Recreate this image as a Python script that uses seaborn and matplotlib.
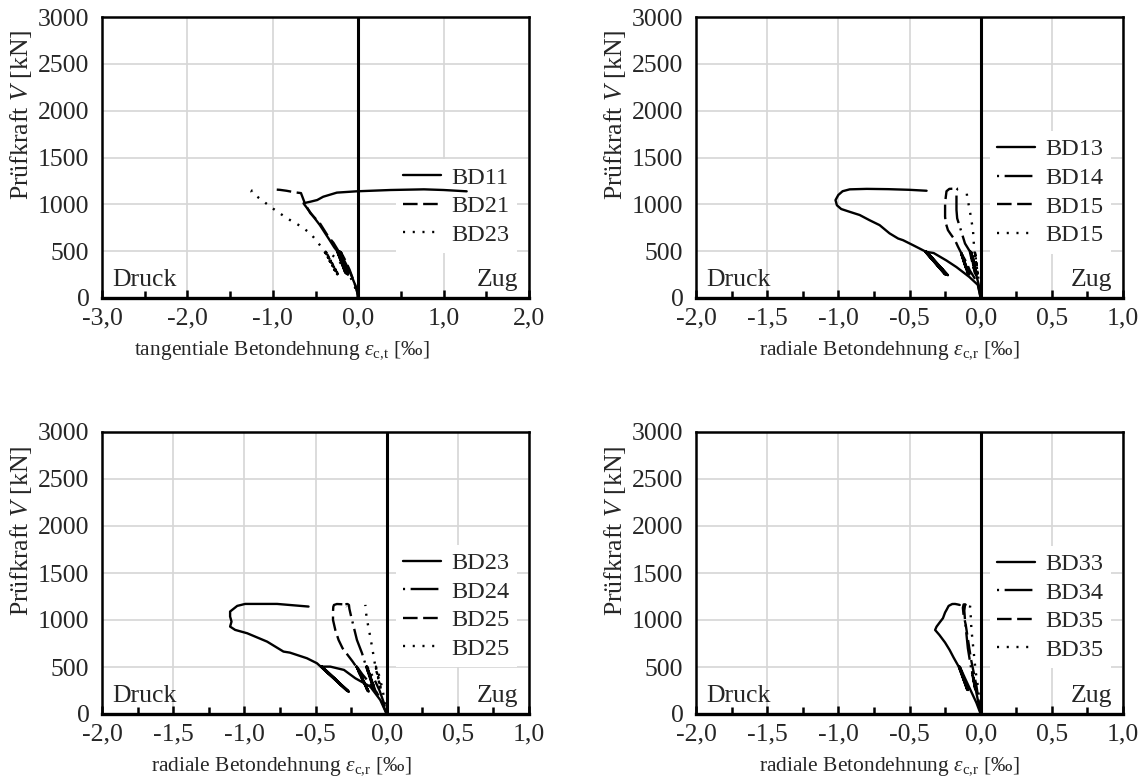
import matplotlib
matplotlib.use("Agg")
import matplotlib.pyplot as plt
import seaborn as sns
from matplotlib.ticker import FixedLocator, MultipleLocator

# ---------------- data (strain in permille, load in kN) ----------------
# Panel 1: tangential concrete strain
bd11_t_x = [0.0, -0.01, -0.04, -0.08, -0.13, -0.18, -0.22, -0.12, -0.23, -0.13, -0.235, -0.135, -0.24,
            -0.14, -0.245, -0.15, -0.25, -0.28, -0.35, -0.45, -0.55, -0.64, -0.60, -0.56, -0.48, -0.41,
            -0.25, -0.02, 0.38, 0.77, 1.00, 1.27]
bd11_t_y = [0, 60, 150, 240, 340, 430, 490, 255, 495, 258, 497, 262, 500,
            265, 502, 268, 505, 540, 640, 780, 900, 1010, 1020, 1028, 1046, 1081,
            1125, 1139, 1153, 1160, 1153, 1139]

bd21_t_x = [0.0, -0.02, -0.06, -0.10, -0.15, -0.20, -0.12, -0.205, -0.125, -0.21, -0.13, -0.215,
            -0.135, -0.22, -0.14, -0.23, -0.29, -0.35, -0.45, -0.56, -0.62, -0.67, -0.74, -0.84,
            -0.92, -1.01]
bd21_t_y = [0, 100, 200, 300, 400, 485, 250, 488, 252, 492, 255, 495,
            258, 498, 260, 500, 590, 655, 800, 905, 1000, 1120, 1128, 1145,
            1155, 1160]

bd23_t_x = [0.0, -0.04, -0.09, -0.16, -0.24, -0.32, -0.38, -0.23, -0.38, -0.235, -0.385, -0.24,
            -0.39, -0.245, -0.395, -0.25, -0.40, -0.47, -0.56, -0.68, -0.80, -0.92, -1.03, -1.12,
            -1.21, -1.25, -1.24, -1.21]
bd23_t_y = [0, 120, 220, 320, 410, 470, 495, 245, 496, 248, 498, 250,
            500, 252, 502, 255, 505, 590, 690, 770, 833, 905, 975, 1040,
            1100, 1135, 1150, 1155]

# Panel 2: radial concrete strain, BD13-BD15
bd13_r_x = [0.0, -0.02, -0.08, -0.17, -0.24, -0.33, -0.38, -0.23, -0.38, -0.235, -0.385, -0.24,
            -0.39, -0.245, -0.39, -0.25, -0.39, -0.47, -0.545, -0.58, -0.64, -0.71, -0.78, -0.85,
            -0.92, -0.98, -1.01, -1.02, -1.00, -0.97, -0.92, -0.80, -0.65, -0.50, -0.38]
bd13_r_y = [0, 140, 225, 330, 400, 480, 492, 243, 494, 246, 495, 248,
            496, 250, 497, 252, 498, 560, 617, 635, 690, 778, 830, 886,
            920, 950, 990, 1045, 1100, 1140, 1160, 1165, 1162, 1155, 1145]

bd14_r_x = [0.0, -0.015, -0.04, -0.06, -0.03, -0.065, -0.035, -0.07, -0.04, -0.077, -0.11, -0.147,
            -0.165, -0.17, -0.17, -0.17, -0.16, -0.14]
bd14_r_y = [0, 150, 300, 480, 250, 490, 255, 495, 258, 500, 582, 763,
            850, 940, 1050, 1150, 1168, 1168]

bd15a_r_x = [0.0, -0.02, -0.05, -0.077, -0.10, -0.135, -0.08, -0.135, -0.085, -0.14, -0.09, -0.14,
             -0.16, -0.18, -0.21, -0.23, -0.245, -0.25, -0.25, -0.25, -0.245, -0.24, -0.22, -0.18, -0.16]
bd15a_r_y = [0, 153, 230, 296, 380, 474, 250, 480, 255, 485, 258, 490,
             550, 617, 680, 725, 800, 867, 940, 1010, 1080, 1140, 1165, 1168, 1165]

bd15b_r_x = [0.0, -0.01, -0.025, -0.04, -0.02, -0.042, -0.022, -0.045, -0.054, -0.077, -0.095, -0.10, -0.10]
bd15b_r_y = [0, 150, 300, 500, 260, 505, 262, 510, 725, 940, 1080, 1150, 1170]

# Panel 3: radial concrete strain, BD23-BD25
bd23_r_x = [0.0, -0.045, -0.115, -0.22, -0.30, -0.396, -0.455, -0.267, -0.455, -0.27, -0.46, -0.275,
            -0.46, -0.28, -0.465, -0.49, -0.56, -0.68, -0.725, -0.84, -0.98, -1.065, -1.10, -1.09,
            -1.10, -1.10, -1.05, -0.994, -0.77, -0.549]
bd23_r_y = [0, 149, 291, 380, 469, 504, 504, 238, 504, 242, 504, 246,
            505, 250, 506, 540, 593, 653, 664, 770, 859, 895, 930, 983,
            1037, 1090, 1150, 1171, 1171, 1143]

bd24_r_x = [0.0, -0.02, -0.05, -0.09, -0.138, -0.08, -0.14, -0.085, -0.142, -0.09, -0.145, -0.173,
            -0.209, -0.232, -0.25, -0.262, -0.265, -0.275, -0.29]
bd24_r_y = [0, 120, 250, 380, 504, 250, 504, 255, 506, 258, 508, 646,
            788, 930, 1040, 1120, 1160, 1170, 1168]

bd25a_r_x = [0.0, -0.03, -0.07, -0.12, -0.17, -0.21, -0.127, -0.21, -0.13, -0.212, -0.133, -0.215,
             -0.24, -0.28, -0.31, -0.338, -0.361, -0.377, -0.377, -0.375, -0.37, -0.35, -0.32, -0.29, -0.28]
bd25a_r_y = [0, 120, 230, 330, 420, 504, 238, 504, 242, 505, 245, 506,
             560, 640, 700, 788, 895, 1001, 1090, 1140, 1160, 1170, 1168, 1165, 1140]

bd25b_r_x = [0.0, -0.015, -0.035, -0.06, -0.075, -0.04, -0.078, -0.042, -0.08, -0.09, -0.103, -0.12,
             -0.138, -0.147, -0.15]
bd25b_r_y = [0, 150, 300, 450, 504, 260, 506, 262, 508, 600, 717, 860,
             1001, 1100, 1161]

# Panel 4: radial concrete strain, BD33-BD35
bd33_r_x = [0.0, -0.03, -0.07, -0.11, -0.147, -0.089, -0.15, -0.092, -0.152, -0.095, -0.155, -0.19,
            -0.218, -0.25, -0.29, -0.32, -0.31, -0.285, -0.265, -0.25, -0.24, -0.225, -0.20, -0.18,
            -0.16, -0.147]
bd33_r_y = [0, 120, 250, 380, 504, 255, 504, 258, 505, 260, 506, 600,
            681, 760, 841, 894, 929, 980, 1019, 1080, 1107, 1150, 1170, 1171,
            1165, 1160]

bd34_r_x = [0.0, -0.02, -0.04, -0.06, -0.035, -0.062, -0.038, -0.065, -0.075, -0.09, -0.10, -0.11,
            -0.115, -0.11, -0.10]
bd34_r_y = [0, 150, 300, 450, 260, 465, 262, 470, 560, 700, 850, 1000,
            1100, 1160, 1170]

bd35a_r_x = [0.0, -0.015, -0.03, -0.05, -0.065, -0.08, -0.095, -0.105, -0.12, -0.125, -0.12, -0.11]
bd35a_r_y = [0, 150, 300, 450, 560, 700, 850, 950, 1050, 1130, 1165, 1168]

bd35b_r_x = [0.0, -0.01, -0.02, -0.035, -0.045, -0.055, -0.065, -0.07, -0.075, -0.07]
bd35b_r_y = [0, 150, 300, 450, 600, 750, 900, 1050, 1140, 1170]

# ---------------- axis texts ----------------
xticks_wide = [-3.0, -2.0, -1.0, 0.0, 1.0, 2.0]
xticklabels_wide = ["-3,0", "-2,0", "-1,0", "0,0", "1,0", "2,0"]
xticks_narrow = [-2.0, -1.5, -1.0, -0.5, 0.0, 0.5, 1.0]
xticklabels_narrow = ["-2,0", "-1,5", "-1,0", "-0,5", "0,0", "0,5", "1,0"]
yticks = [0, 500, 1000, 1500, 2000, 2500, 3000]
ylabel = r"Prüfkraft $V$ [kN]"
xlabel_t = r"tangentiale Betondehnung $\varepsilon_{\mathrm{c{,}t}}$ [‰]"
xlabel_r = r"radiale Betondehnung $\varepsilon_{\mathrm{c{,}r}}$ [‰]"

# ---------------- style ----------------
sns.set_theme(style="white")
plt.rcParams["font.family"] = ["Liberation Serif", "DejaVu Serif"]
plt.rcParams["mathtext.fontset"] = "custom"
plt.rcParams["mathtext.rm"] = "Liberation Serif"
plt.rcParams["mathtext.it"] = "Liberation Serif:italic"
plt.rcParams["lines.scale_dashes"] = False

FS_TICK = 18.5
FS_LEG = 17.5
FS_LAB = 18.5
FS_XLAB = 15.5
SOLID = "-"
DASHDOT = (0, (1.5, 4, 20, 4))
DASHED = (0, (10.5, 4))
DOTTED = (0, (1.5, 5.5))
LW = 1.7

fig = plt.figure(figsize=(11.42, 7.82), dpi=100)
W = 427 / 1142
boxes = [
    (102 / 1142, 1 - 298 / 782, W, 281 / 782),
    (696 / 1142, 1 - 298 / 782, W, 281 / 782),
    (102 / 1142, 1 - 714 / 782, W, 282 / 782),
    (696 / 1142, 1 - 714 / 782, W, 282 / 782),
]

panels = [
    dict(xlim=(-3, 2), ticks=xticks_wide, labels=xticklabels_wide, minor=0.5, xlabel=xlabel_t,
         xlab_x=0.42,
         series=[(bd11_t_x, bd11_t_y, "BD11", SOLID),
                 (bd21_t_x, bd21_t_y, "BD21", DASHED),
                 (bd23_t_x, bd23_t_y, "BD23", DOTTED)],
         legend_y=0.327),
    dict(xlim=(-2, 1), ticks=xticks_narrow, labels=xticklabels_narrow, minor=0.25, xlabel=xlabel_r,
         xlab_x=0.452,
         series=[(bd13_r_x, bd13_r_y, "BD13", SOLID),
                 (bd14_r_x, bd14_r_y, "BD14", DASHDOT),
                 (bd15a_r_x, bd15a_r_y, "BD15", DASHED),
                 (bd15b_r_x, bd15b_r_y, "BD15", DOTTED)],
         legend_y=0.376),
    dict(xlim=(-2, 1), ticks=xticks_narrow, labels=xticklabels_narrow, minor=0.25, xlabel=xlabel_r,
         xlab_x=0.42,
         series=[(bd23_r_x, bd23_r_y, "BD23", SOLID),
                 (bd24_r_x, bd24_r_y, "BD24", DASHDOT),
                 (bd25a_r_x, bd25a_r_y, "BD25", DASHED),
                 (bd25b_r_x, bd25b_r_y, "BD25", DOTTED)],
         legend_y=0.383),
    dict(xlim=(-2, 1), ticks=xticks_narrow, labels=xticklabels_narrow, minor=0.25, xlabel=xlabel_r,
         xlab_x=0.452,
         series=[(bd33_r_x, bd33_r_y, "BD33", SOLID),
                 (bd34_r_x, bd34_r_y, "BD34", DASHDOT),
                 (bd35a_r_x, bd35a_r_y, "BD35", DASHED),
                 (bd35b_r_x, bd35b_r_y, "BD35", DOTTED)],
         legend_y=0.379),
]

for box, p in zip(boxes, panels):
    ax = fig.add_axes(box)
    ax.set_axisbelow(True)
    for xs, ys, name, ls in p["series"]:
        sns.lineplot(x=xs, y=ys, ax=ax, sort=False, estimator=None, color="black",
                     linewidth=LW, linestyle=ls, label=name, zorder=3)
    ax.axvline(0, color="black", lw=2.2, zorder=4)
    ax.set_xlim(*p["xlim"])
    ax.set_ylim(0, 3000)
    ax.xaxis.set_major_locator(FixedLocator(p["ticks"]))
    ax.set_xticklabels(p["labels"])
    ax.xaxis.set_minor_locator(MultipleLocator(p["minor"]))
    ax.yaxis.set_major_locator(FixedLocator(yticks))
    ax.set_yticklabels([str(v) for v in yticks])
    ax.grid(True, which="major", color="#d6d6d6", lw=1.2, zorder=0)
    ax.tick_params(axis="x", which="both", direction="in", bottom=True, length=6, width=1.8,
                   labelsize=FS_TICK, pad=7, color="black")
    ax.tick_params(axis="x", which="minor", length=5)
    ax.tick_params(axis="y", which="both", left=False, labelsize=FS_TICK, pad=3)
    for s in ax.spines.values():
        s.set_color("black")
        s.set_linewidth(1.8)
    ax.spines["bottom"].set_linewidth(2.4)
    ax.set_xlabel(p["xlabel"], fontsize=FS_XLAB)
    ax.xaxis.set_label_coords(p["xlab_x"], -0.148)
    ax.set_ylabel(ylabel, fontsize=FS_LAB)
    ax.yaxis.set_label_coords(-0.16, 0.65)
    ax.text(0.025, 0.025, "Druck", transform=ax.transAxes, fontsize=FS_LAB, ha="left", va="bottom")
    ax.text(0.975, 0.025, "Zug", transform=ax.transAxes, fontsize=FS_LAB, ha="right", va="bottom")
    leg = ax.legend(loc="center right", bbox_to_anchor=(1.0, p["legend_y"]), fontsize=FS_LEG,
                    frameon=True, facecolor="white", edgecolor="none", framealpha=1,
                    handlelength=1.55, handletextpad=0.44, labelspacing=0.27, borderpad=0.3,
                    fancybox=False)
    leg.set_zorder(2)

fig.savefig("out.png", dpi=100)
